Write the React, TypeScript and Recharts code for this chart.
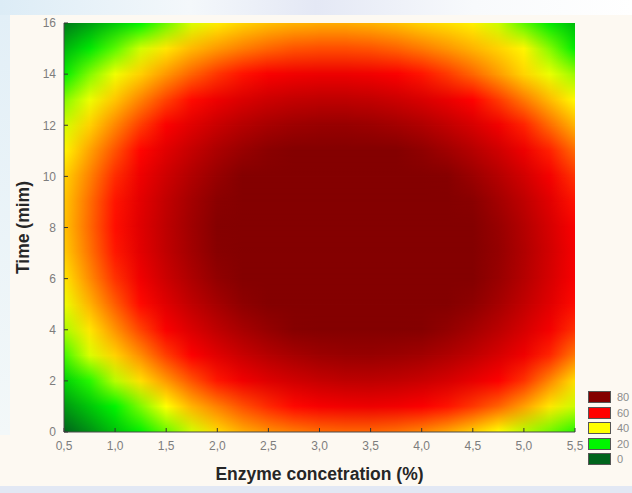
import React from "react";
import { ComposedChart, XAxis, YAxis, ReferenceArea, Legend } from "recharts";

// enzyme concentration (%) at which each row was read
const concentrations = [
    0.5, 0.75, 1.0, 1.25, 1.5, 1.75, 2.0, 2.25, 2.5, 2.75, 3.0,
    3.25, 3.5, 3.75, 4.0, 4.25, 4.5, 4.75, 5.0, 5.25, 5.5,
];
const times = [0, 1, 2, 3, 4, 5, 6, 7, 8, 9, 10, 11, 12, 13, 14, 15, 16];

// response, one list per time (min)
const t0 = [0, 6, 13, 19.5, 28, 36.5, 43, 46.5, 48.7, 50.3, 51.5, 52.1, 52.1, 51.2, 49.5, 47, 43.8, 40, 34.5, 29, 23];
const t1 = [7, 13.5, 20, 30, 40, 46, 50, 53.8, 56.9, 59.4, 61.3, 62.3, 62.7, 62.1, 60.7, 58.6, 55.8, 52.3, 47.5, 42, 36];
const t2 = [15, 23, 34.5, 42.5, 48, 53.5, 58.3, 62.2, 65.3, 67.7, 69.4, 70.5, 70.7, 70.1, 68.7, 66.7, 63.8, 60.4, 56.1, 49.5, 42.5];
const t3 = [25, 37, 43.5, 49, 55.2, 60.4, 65, 68.9, 72, 74.3, 75.9, 76.8, 76.9, 76.3, 75.1, 73, 70.2, 66.7, 62.4, 57.2, 50.6];
const t4 = [33.5, 42, 48.5, 54.8, 60.8, 66, 70.5, 74.3, 77.3, 79.6, 81, 81.9, 82, 81.3, 79.9, 77.7, 74.8, 71.3, 66.9, 61.8, 56.3];
const t5 = [38.5, 46, 52.8, 59.3, 65.2, 70.4, 74.7, 78.4, 81.3, 83.5, 85, 85.7, 85.7, 85, 83.5, 81.3, 78.3, 74.6, 70.1, 65.1, 59.2];
const t6 = [42, 49, 56.1, 62.5, 68.4, 73.3, 77.7, 81.3, 84, 86.2, 87.6, 88.2, 88.1, 87.3, 85.8, 83.5, 80.4, 76.7, 72.2, 66.9, 60.9];
const t7 = [44, 50.9, 58.1, 64.5, 70.2, 75.2, 79.3, 82.9, 85.7, 87.6, 89, 89.4, 89.3, 88.4, 86.8, 84.4, 81.3, 77.4, 72.9, 67.5, 61.5];
const t8 = [44.8, 51.8, 58.9, 65.2, 70.8, 75.6, 79.8, 83.2, 85.9, 87.8, 89, 89.6, 89.2, 88.3, 86.6, 84, 80.8, 76.9, 72.3, 66.9, 60.8];
const t9 = [44.5, 51.4, 58.4, 64.6, 70.1, 75, 79, 82.3, 84.8, 86.8, 87.8, 88.3, 88, 86.8, 85.1, 82.4, 79.2, 75.2, 70.5, 65, 58.7];
const t10 = [43.5, 49.8, 56.6, 62.8, 68.2, 72.9, 76.9, 80.1, 82.7, 84.4, 85.4, 85.8, 85.3, 84.2, 82.2, 79.7, 76.2, 72.2, 67.4, 61.8, 56.1];
const t11 = [40.7, 47.2, 53.6, 59.7, 65, 69.6, 73.6, 76.7, 79.1, 80.8, 81.7, 82, 81.5, 80.3, 78.2, 75.5, 72.1, 67.9, 63, 57.6, 51.7];
const t12 = [36.5, 43.5, 49.4, 55.3, 60.6, 65.1, 68.9, 72, 74.3, 75.9, 76.8, 76.9, 76.3, 75, 73, 70.1, 66.6, 62.3, 57.4, 51.6, 46];
const t13 = [30, 38.5, 44.5, 49.7, 54.8, 59.2, 63, 66, 68.3, 69.8, 70.6, 70.6, 69.9, 68.5, 66.3, 63.5, 59.9, 55.5, 50.5, 45.4, 40.3];
const t14 = [19, 30, 38.8, 43.7, 48.1, 52.2, 55.9, 58.7, 60.9, 62.3, 63, 63, 62.3, 60.8, 58.5, 55.6, 52, 47.8, 43.3, 38.5, 32];
const t15 = [11, 18, 27, 36.5, 42, 45.5, 48, 50.2, 52.1, 53.5, 54, 54, 53.5, 52.3, 50.4, 48.3, 46, 43.5, 40.8, 30.5, 19];
const t16 = [3, 8, 14, 20, 28.5, 37, 41.5, 43.5, 45, 46, 46.5, 46.5, 46, 45, 43.5, 42.5, 41.2, 36, 27, 18.5, 12];

const rows = [t0, t1, t2, t3, t4, t5, t6, t7, t8, t9, t10, t11, t12, t13, t14, t15, t16];

const xTicks = [0.5, 1.0, 1.5, 2.0, 2.5, 3.0, 3.5, 4.0, 4.5, 5.0, 5.5];
const yTicks = [0, 2, 4, 6, 8, 10, 12, 14, 16];
const legendLevels = [80, 60, 40, 20, 0];

// Statistica style green -> yellow -> red -> dark red
const colorStops: [number, number[]][] = [
    [0, [0, 100, 28]],
    [20, [0, 245, 0]],
    [40, [255, 255, 0]],
    [60, [255, 0, 0]],
    [80, [132, 0, 0]],
];

const heatColor = (v: number) => {
    const val = Math.max(0, Math.min(80, v));
    for (let i = 1; i < colorStops.length; i++) {
        const [v0, c0] = colorStops[i - 1];
        const [v1, c1] = colorStops[i];
        if (val <= v1) {
            const t = (val - v0) / (v1 - v0);
            const c = c0.map((ch, k) => Math.round(ch + (c1[k] - ch) * t));
            return `rgb(${c[0]},${c[1]},${c[2]})`;
        }
    }
    return "rgb(132,0,0)";
};

const xMin = concentrations[0];
const xMax = concentrations[concentrations.length - 1];
const yMax = times[times.length - 1];
const font = '"Liberation Sans", Arial, sans-serif';

const HeatDefs = () => (
    <svg width={0} height={0} style={{ position: "absolute" }} aria-hidden>
        <defs>
            <linearGradient id="fade-half" x1="0" y1="0" x2="0" y2="1">
                <stop offset="0" stopColor="#fff" stopOpacity={1} />
                <stop offset="0.5" stopColor="#fff" stopOpacity={1} />
                <stop offset="1" stopColor="#fff" stopOpacity={0} />
            </linearGradient>
            <mask id="mask-half" maskContentUnits="objectBoundingBox">
                <rect x="0" y="0" width="1" height="1" fill="url(#fade-half)" />
            </mask>
            <linearGradient id="fade-full" x1="0" y1="0" x2="0" y2="1">
                <stop offset="0" stopColor="#fff" stopOpacity={1} />
                <stop offset="1" stopColor="#fff" stopOpacity={0} />
            </linearGradient>
            <mask id="mask-full" maskContentUnits="objectBoundingBox">
                <rect x="0" y="0" width="1" height="1" fill="url(#fade-full)" />
            </mask>
            {rows.map((row, i) => (
                <linearGradient key={i} id={`heat-row-${i}`} x1="0" y1="0" x2="1" y2="0">
                    {row.map((v, k) => (
                        <stop
                            key={k}
                            offset={(concentrations[k] - xMin) / (xMax - xMin)}
                            stopColor={heatColor(v)}
                        />
                    ))}
                </linearGradient>
            ))}
        </defs>
    </svg>
);

// each row fades into the one below it, so the rows blend smoothly
const rowShape = (i: number) => (props: any) => {
    const mask = i === 0 ? undefined : i === rows.length - 1 ? "url(#mask-full)" : "url(#mask-half)";
    return (
        <rect
            x={props.x}
            y={props.y}
            width={props.width}
            height={props.height}
            fill={`url(#heat-row-${i})`}
            mask={mask}
        />
    );
};

const renderLegend = () => (
    <div style={{ display: "flex", flexDirection: "column", gap: 3.5, fontFamily: font }}>
        {legendLevels.map((l) => (
            <div key={l} style={{ display: "flex", alignItems: "center", height: 12 }}>
                <span
                    style={{
                        width: 21,
                        height: 10,
                        background: heatColor(l),
                        border: "1px solid #555",
                        display: "inline-block",
                    }}
                />
                <span style={{ marginLeft: 6, fontSize: 11, color: "#8c8c8c", lineHeight: "12px" }}>{l}</span>
            </div>
        ))}
    </div>
);

const fmtX = (v: number) => v.toFixed(1).replace(".", ",");

export default function App() {
    const tickStyle = { fill: "#7d7d7d", fontSize: 12, fontFamily: font };
    const titleStyle = { fill: "#262626", fontSize: 17.5, fontWeight: 700, fontFamily: font };
    return (
        <div
            style={{
                position: "absolute",
                left: 0,
                top: 0,
                width: 632,
                height: 493,
                background: "#fdf9f2",
                overflow: "hidden",
                fontFamily: font,
            }}
        >
            <div style={{ position: "absolute", left: 0, top: 0, width: 632, height: 15, background: "linear-gradient(90deg, #dcecf6, #f4f8fb 30%, #e4e8f5 50%, #f8fafc 75%, #ffffff)" }} />
            <div style={{ position: "absolute", left: 0, top: 15, width: 10, height: 420, background: "linear-gradient(180deg, #e2eff7, #f3f8f9)" }} />
            <div style={{ position: "absolute", left: 0, top: 486, width: 632, height: 7, background: "#e2e8f4" }} />
            <HeatDefs />
            <ComposedChart width={632} height={493} margin={{ top: 23, right: 57, bottom: 31, left: 24 }}>
                {rows.map((_, i) => (
                    <ReferenceArea
                        key={`row-${i}`}
                        x1={xMin}
                        x2={xMax}
                        y1={i === 0 ? times[0] : times[i - 1]}
                        y2={i === rows.length - 1 ? yMax : times[i + 1]}
                        ifOverflow="visible"
                        shape={rowShape(i)}
                    />
                ))}
                <XAxis
                    type="number"
                    dataKey="x"
                    domain={[xMin, xMax]}
                    ticks={xTicks}
                    allowDataOverflow
                    tickFormatter={fmtX}
                    height={30}
                    tickSize={-4}
                    tickMargin={13}
                    axisLine={{ stroke: "#4a4a4a" }}
                    tickLine={{ stroke: "#333" }}
                    tick={tickStyle}
                    label={{ value: "Enzyme concetration (%)", position: "bottom", offset: 6, style: titleStyle }}
                />
                <XAxis
                    xAxisId="top"
                    orientation="top"
                    type="number"
                    domain={[xMin, xMax]}
                    ticks={xTicks}
                    allowDataOverflow
                    height={0}
                    tickSize={-4}
                    axisLine={{ stroke: "#4a4a4a" }}
                    tickLine={{ stroke: "#333" }}
                    tick={false}
                />
                <YAxis
                    type="number"
                    dataKey="y"
                    domain={[0, yMax]}
                    ticks={yTicks}
                    allowDataOverflow
                    width={40}
                    tickSize={-4}
                    tickMargin={12}
                    axisLine={{ stroke: "#4a4a4a" }}
                    tickLine={{ stroke: "#333" }}
                    tick={tickStyle}
                    label={{
                        value: "Time (mim)",
                        angle: -90,
                        position: "insideLeft",
                        offset: -1,
                        style: { ...titleStyle, textAnchor: "middle" },
                    }}
                />
                <YAxis
                    yAxisId="right"
                    orientation="right"
                    type="number"
                    domain={[0, yMax]}
                    ticks={yTicks}
                    allowDataOverflow
                    width={0}
                    tickSize={-4}
                    axisLine={{ stroke: "#4a4a4a" }}
                    tickLine={{ stroke: "#333" }}
                    tick={false}
                />
                <Legend
                    layout="vertical"
                    align="center"
                    verticalAlign="middle"
                    content={renderLegend}
                    wrapperStyle={{ left: 588, top: 391, width: 44, height: 80 }}
                />
            </ComposedChart>
        </div>
    );
}
